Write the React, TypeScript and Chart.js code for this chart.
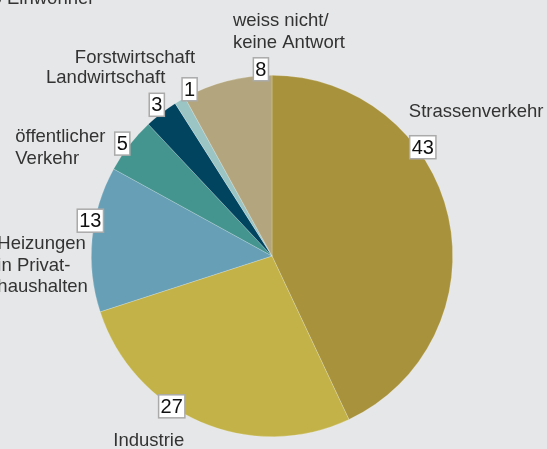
import React, { useEffect, useRef } from "react";
import { Chart, registerables } from "chart.js";

Chart.register(...registerables);

// ---- data ----
const categories = [
  "Strassenverkehr",
  "Industrie",
  "Heizungen in Privathaushalten",
  "öffentlicher Verkehr",
  "Landwirtschaft",
  "Forstwirtschaft",
  "weiss nicht/keine Antwort",
];
const values = [43, 27, 13, 5, 3, 1, 8];
const labelLines = [
  ["Strassenverkehr"],
  ["Industrie"],
  ["Heizungen", "in Privat-", "haushalten"],
  ["öffentlicher", "Verkehr"],
  ["Landwirtschaft"],
  ["Forstwirtschaft"],
  ["weiss nicht/", "keine Antwort"],
];
const titleText = "pro Einwohner";

// ---- styles / layout ----
const colors = ["#a8923c", "#c2b247", "#669fb6", "#44948f", "#01445f", "#9bc5c5", "#b3a67e"];
const BG = "#e6e7e8";
// value box: angle (deg clockwise from top) and radius factor
const boxPlace: [number, number][] = [
  [54.2, 1.029],
  [213.7, 1.0],
  [281.0, 1.024],
  [306.9, 1.036],
  [322.7, 1.052],
  [333.7, 1.029],
  [356.6, 1.035],
];
// text anchor relative to box centre: dx, dy (first baseline), align
const textPlace: [number, number, CanvasTextAlign][] = [
  [-14, -30, "left"],
  [-58.5, 39.5, "left"],
  [-93, 28.5, "left"],
  [-107, -1.5, "left"],
  [8.5, -21.5, "right"],
  [5.5, -26, "right"],
  [-28, -43, "left"],
];
const FONT = "'Liberation Sans', Arial, sans-serif";

const labelPlugin = {
  id: "labels",
  afterDraw(chart: any) {
    const ctx: CanvasRenderingContext2D = chart.ctx;
    const meta = chart.getDatasetMeta(0);
    ctx.save();
    // title fragment
    ctx.font = `18.5px ${FONT}`;
    ctx.fillStyle = "#333";
    ctx.textAlign = "left";
    ctx.textBaseline = "alphabetic";
    const pre = ctx.measureText("pro ").width;
    ctx.fillText(titleText, 7 - pre, 4);

    meta.data.forEach((arc: any, i: number) => {
      const cx = arc.x, cy = arc.y, R = arc.outerRadius;
      const [deg, f] = boxPlace[i];
      const a = (deg * Math.PI) / 180;
      const bx = cx + Math.sin(a) * R * f;
      const by = cy - Math.cos(a) * R * f;
      // label text
      const [dx, dy, align] = textPlace[i];
      ctx.font = `18.5px ${FONT}`;
      ctx.fillStyle = "#333";
      ctx.textAlign = align;
      ctx.textBaseline = "alphabetic";
      labelLines[i].forEach((line, k) => {
        ctx.fillText(line, bx + dx, by + dy + k * 21.5);
      });
      // value box
      ctx.font = `20px ${FONT}`;
      const txt = String(values[i]);
      const w = ctx.measureText(txt).width + 4;
      const h = 23;
      ctx.fillStyle = "#ffffff";
      ctx.fillRect(bx - w / 2, by - h / 2, w, h);
      ctx.strokeStyle = "#aaaaaa";
      ctx.lineWidth = 1.5;
      ctx.strokeRect(bx - w / 2, by - h / 2, w, h);
      ctx.fillStyle = "#111";
      ctx.textAlign = "center";
      ctx.textBaseline = "middle";
      ctx.fillText(txt, bx, by + 1);
    });
    ctx.restore();
  },
};

export default function App() {
  const ref = useRef<HTMLCanvasElement>(null);
  useEffect(() => {
    document.body.style.margin = "0";
    const chart = new Chart(ref.current!, {
      type: "pie",
      data: {
        labels: categories,
        datasets: [
          {
            data: values,
            backgroundColor: colors,
            borderColor: "rgba(255,255,255,0.35)",
            borderWidth: 0.6,
          },
        ],
      },
      options: {
        responsive: false,
        animation: false,
        events: [],
        layout: { padding: { left: 91, right: 94, top: 75, bottom: 12 } },
        plugins: { legend: { display: false }, tooltip: { enabled: false } },
      },
      plugins: [labelPlugin],
    });
    return () => chart.destroy();
  }, []);
  return (
    <div style={{ width: 547, height: 449, background: BG }}>
      <canvas ref={ref} width={547} height={449} style={{ display: "block" }} />
    </div>
  );
}
